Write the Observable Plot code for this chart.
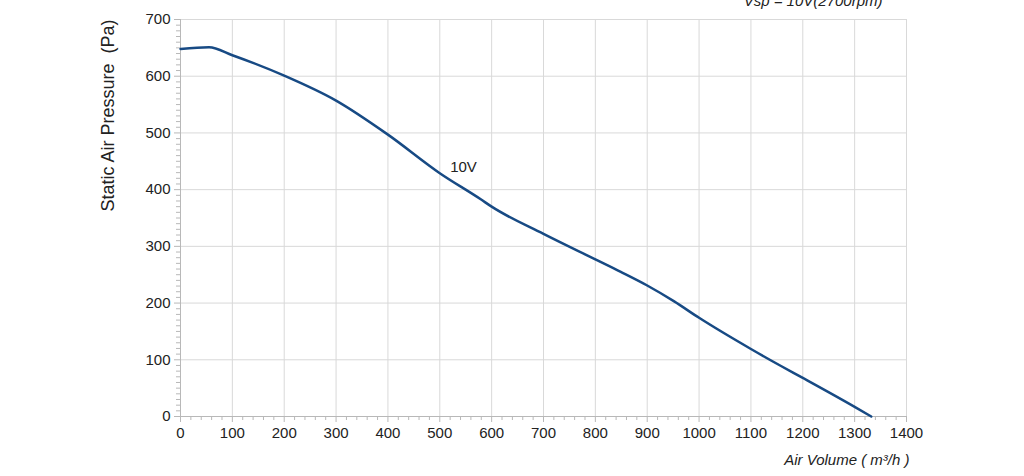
<!DOCTYPE html>
<html>
<head>
<meta charset="utf-8">
<script src="https://cdn.jsdelivr.net/npm/d3@7"></script>
<script src="https://cdn.jsdelivr.net/npm/@observablehq/plot@0.6"></script>
<style>
  html, body { margin: 0; padding: 0; background: #fff; }
  #chart { width: 1024px; height: 476px; overflow: hidden; }
</style>
</head>
<body>
<div id="chart"></div>
<script>
// Fan curve data
const airVolume = [0, 55, 100, 200, 300, 400, 500, 579, 600, 700, 800, 849, 900, 952, 1000, 1100, 1158, 1200, 1300, 1332];
const pressure  = [648, 651, 637, 601, 557, 497, 429, 383, 370, 322, 277, 255, 231, 203, 174, 119, 89, 68, 17, 0];

const xMajorTicks = d3.range(0, 1401, 100);
const yMajorTicks = d3.range(0, 701, 100);
const xMinorTicks = d3.range(0, 1401, 20).filter(v => v % 100 !== 0);
const yMinorTicks = d3.range(0, 701, 10).filter(v => v % 100 !== 0);

const seriesLabel = [{text: "10V", x: 520, y: 440}];
const xTitle = "Air Volume ( m³/h )";
const yTitle = "Static Air Pressure  (Pa)";
const topNote = "Vsp = 10V(2700rpm)";

const curveData = airVolume.map((v, i) => ({airVolume: v, pressure: pressure[i]}));

const gridColor = "#d9d9d9";
const axisColor = "#b8b8b8";
const textColor = "#222";
const lineColor = "#174a84";

const chart = Plot.plot({
  width: 1024,
  height: 476,
  marginLeft: 180,
  marginRight: 118,
  marginTop: 19,
  marginBottom: 60,
  style: {fontFamily: "'Liberation Sans', Arial, sans-serif", fontSize: "15px", color: textColor, background: "#fff", overflow: "visible"},
  x: {domain: [0, 1400]},
  y: {domain: [0, 700]},
  marks: [
    Plot.gridX(xMajorTicks, {stroke: gridColor, strokeOpacity: 1}),
    Plot.gridY(yMajorTicks, {stroke: gridColor, strokeOpacity: 1}),
    Plot.axisX(xMinorTicks, {tickSize: 4, tickFormat: () => "", stroke: axisColor, label: null}),
    Plot.axisY(yMinorTicks, {tickSize: 4, tickFormat: () => "", stroke: axisColor, label: null}),
    Plot.axisX(xMajorTicks, {tickSize: 6, tickPadding: 5, tickFormat: d3.format("d"), stroke: axisColor, fill: textColor, fontSize: 15, label: null}),
    Plot.axisY(yMajorTicks, {tickSize: 6, tickPadding: 4, tickFormat: d3.format("d"), stroke: axisColor, fill: textColor, fontSize: 15, label: null}),
    Plot.ruleY([0], {stroke: axisColor}),
    Plot.ruleX([0], {stroke: axisColor}),
    Plot.line(curveData, {x: "airVolume", y: "pressure", curve: "monotone-x", stroke: lineColor, strokeWidth: 2.5}),
    Plot.text(seriesLabel, {x: "x", y: "y", text: "text", textAnchor: "start", fill: textColor, fontSize: 15}),
    Plot.text([yTitle], {text: d => d, frameAnchor: "top-left", rotate: -90, dx: -72, dy: 96, textAnchor: "middle", lineAnchor: "middle", fill: textColor, fontSize: 18}),
    Plot.text([xTitle], {text: d => d, frameAnchor: "bottom-right", dx: 3, dy: 44, textAnchor: "end", lineAnchor: "middle", fill: textColor, fontSize: 15, fontStyle: "italic"}),
    Plot.text([topNote], {text: d => d, frameAnchor: "top-right", dx: -24, dy: -14, textAnchor: "end", lineAnchor: "bottom", fill: textColor, fontSize: 15, fontStyle: "italic"})
  ]
});
document.getElementById("chart").appendChild(chart);
</script>
</body>
</html>
